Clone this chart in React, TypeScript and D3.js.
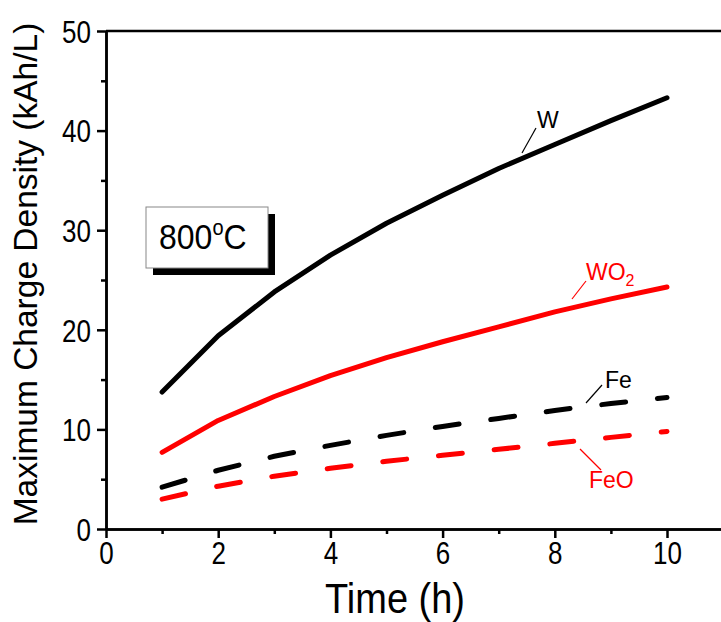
import React, { useEffect, useRef } from 'react';
import * as d3 from 'd3';

// hours
const times = [1, 2, 3, 4, 5, 6, 7, 8, 9, 10];
// max charge density (kAh/L)
const wValues = [13.75, 19.4, 23.8, 27.5, 30.7, 33.5, 36.2, 38.6, 41.0, 43.3];
const wo2Values = [7.7, 10.9, 13.3, 15.4, 17.2, 18.8, 20.3, 21.8, 23.1, 24.3];
const feValues = [4.2, 5.9, 7.3, 8.4, 9.4, 10.3, 11.1, 11.9, 12.6, 13.2];
const feoValues = [3.0, 4.3, 5.3, 6.1, 6.8, 7.4, 8.0, 8.6, 9.2, 9.8];

const xMajor = [0, 2, 4, 6, 8, 10];
const xMinor = [1, 3, 5, 7, 9];
const yMajor = [0, 10, 20, 30, 40, 50];
const yMinor = [5, 15, 25, 35, 45];

const FONT = 'Arial, "Liberation Sans", sans-serif';
const STRETCH = 1.2; // text in the original is a bit taller than wide

const App = () => {
  const svgRef = useRef<SVGSVGElement>(null);

  useEffect(() => {
    document.body.style.margin = '0';
    const w = 721, h = 622;
    const svg = d3.select(svgRef.current).attr('width', w).attr('height', h);
    svg.selectAll('*').remove();

    const x = d3.scaleLinear().domain([0, 11]).range([106, 106 + 56.1 * 11]);
    const y = d3.scaleLinear().domain([0, 50]).range([529, 31]);

    svg.append('rect').attr('width', w).attr('height', h).attr('fill', '#fff');

    // series
    const series = [
      { vals: wValues, color: '#000', dash: null },
      { vals: wo2Values, color: '#ff0000', dash: null },
      { vals: feValues, color: '#000', dash: '24 32' },
      { vals: feoValues, color: '#ff0000', dash: '24 32' },
    ];
    const line = d3.line<number>()
      .x((d, i) => x(times[i]))
      .y(d => y(d));
    series.forEach(s => {
      svg.append('path')
        .attr('d', line(s.vals))
        .attr('fill', 'none')
        .attr('stroke', s.color)
        .attr('stroke-width', 5)
        .attr('stroke-linecap', 'round')
        .attr('stroke-linejoin', 'round')
        .attr('stroke-dasharray', s.dash);
    });

    // axes
    const gx = svg.append('g').attr('transform', `translate(0,${y(0)})`);
    gx.call(d3.axisBottom(x).tickValues(xMajor).tickSizeInner(9).tickSizeOuter(0));
    gx.append('g').call(d3.axisBottom(x).tickValues(xMinor).tickSizeInner(5).tickSizeOuter(0).tickFormat(() => ''));
    gx.selectAll('.tick text')
      .attr('y', 24 / STRETCH).attr('dy', '0.36em')
      .attr('transform', `scale(1,${STRETCH})`);

    const gy = svg.append('g').attr('transform', `translate(${x(0)},0)`);
    gy.call(d3.axisLeft(y).tickValues(yMajor).tickSizeInner(9).tickSizeOuter(0));
    gy.append('g').call(d3.axisLeft(y).tickValues(yMinor).tickSizeInner(5).tickSizeOuter(0).tickFormat(() => ''));
    gy.selectAll('.tick text')
      .attr('x', -15).attr('dy', '0.36em')
      .attr('transform', `scale(1,${STRETCH})`);

    svg.selectAll('.domain').attr('stroke', '#000').attr('stroke-width', 2.5);
    svg.selectAll('.tick line').attr('stroke', '#000').attr('stroke-width', 2.5);
    svg.selectAll('.tick text').attr('font-family', FONT).attr('font-size', 26).attr('fill', '#000');

    // top frame line
    svg.append('line')
      .attr('x1', x(0)).attr('x2', w).attr('y1', y(50)).attr('y2', y(50))
      .attr('stroke', '#000').attr('stroke-width', 2.5);

    // axis titles
    svg.append('text')
      .attr('transform', `translate(395,613) scale(1,1.1)`)
      .attr('text-anchor', 'middle').attr('font-family', FONT).attr('font-size', 38)
      .text('Time (h)');
    svg.append('text')
      .attr('transform', `translate(37,274) rotate(-90)`)
      .attr('text-anchor', 'middle').attr('font-family', FONT).attr('font-size', 33.5)
      .text('Maximum Charge Density (kAh/L)');

    // 800°C label box with shadow
    svg.append('rect').attr('x', 153).attr('y', 214).attr('width', 122).attr('height', 61).attr('fill', '#000');
    svg.append('rect').attr('x', 146).attr('y', 207).attr('width', 122).attr('height', 61)
      .attr('fill', '#fff').attr('stroke', '#888').attr('stroke-width', 1);
    const t = svg.append('text').attr('transform', 'translate(159,249) scale(1,1.1)')
      .attr('font-family', FONT).attr('font-size', 32);
    t.append('tspan').text('800');
    t.append('tspan').attr('font-size', 20).attr('dy', -13).text('o');
    t.append('tspan').attr('dy', 13).text('C');

    // series annotations
    const ann = [
      { label: 'W', sub: '', color: '#000', tx: 537, ty: 128, l: [522, 153, 536, 128] },
      { label: 'WO', sub: '2', color: '#ff0000', tx: 586, ty: 280, l: [572, 299, 586, 281] },
      { label: 'Fe', sub: '', color: '#000', tx: 605, ty: 388, l: [586, 403, 602, 385] },
      { label: 'FeO', sub: '', color: '#ff0000', tx: 589, ty: 488, l: [580, 449, 601, 470] },
    ];
    ann.forEach(a => {
      svg.append('line')
        .attr('x1', a.l[0]).attr('y1', a.l[1]).attr('x2', a.l[2]).attr('y2', a.l[3])
        .attr('stroke', a.color).attr('stroke-width', 1.2);
      const tt = svg.append('text').attr('x', a.tx).attr('y', a.ty)
        .attr('font-family', FONT).attr('font-size', 23).attr('fill', a.color);
      tt.append('tspan').text(a.label);
      if (a.sub) tt.append('tspan').attr('font-size', 16).attr('dy', 6).text(a.sub);
    });
  }, []);

  return (
    <div>
      <svg ref={svgRef} style={{ display: 'block' }}></svg>
    </div>
  );
};

export default App;
